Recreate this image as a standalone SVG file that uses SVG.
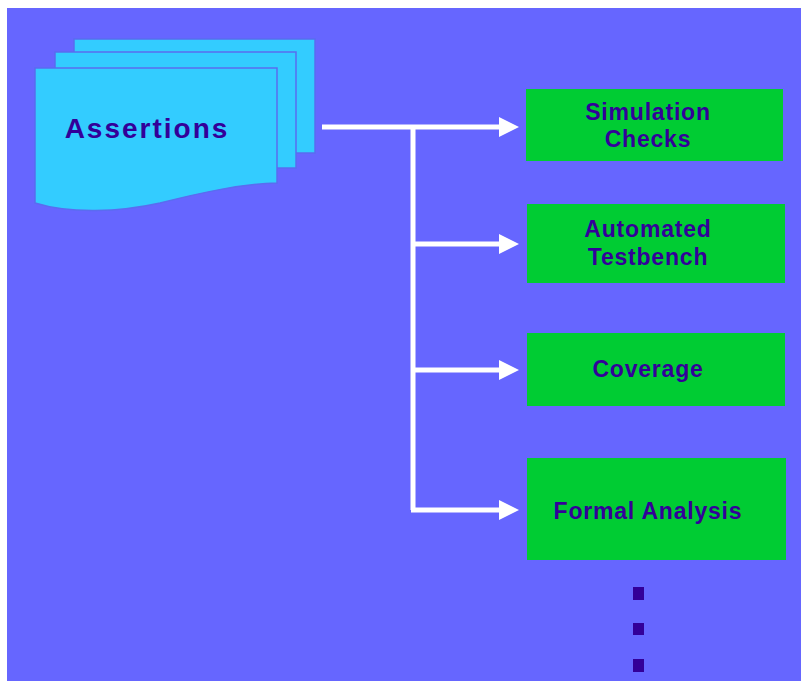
<svg xmlns="http://www.w3.org/2000/svg" width="801" height="681" viewBox="0 0 801 681">
<defs>
<style>
.doc{fill:#33CCFF;stroke:#5A6CF0;stroke-width:1.5}
.box{fill:#00CC33}
.lbl{font-family:"Liberation Sans",Arial,sans-serif;font-weight:bold;fill:#330099;text-anchor:middle}
.wire{stroke:#FFFFFF;stroke-width:5;fill:none}
.dot{fill:#330099}
</style>
<marker id="ah" viewBox="0 0 20 20" refX="4" refY="10" markerWidth="20" markerHeight="20" markerUnits="userSpaceOnUse" orient="auto">
<path d="M0,0 L20,10 L0,20 Z" fill="#FFFFFF"/>
</marker>
</defs>
<rect x="0" y="0" width="801" height="681" fill="#FFFFFF"/>
<rect x="7" y="8" width="794" height="673" fill="#6666FF"/>

<g id="assertions">
<rect class="doc" x="74" y="39" width="241" height="114"/>
<rect class="doc" x="55" y="52" width="241" height="116"/>
<path class="doc" d="M35,68 H277 V183 C240,184 200,193 160,203 C120,212 70,214 35,203 Z"/>
<text class="lbl" x="147" y="138" font-size="28" letter-spacing="2">Assertions</text>
</g>

<g id="connectors">
<path class="wire" d="M322,127 H503" marker-end="url(#ah)"/>
<path class="wire" d="M413,127 V510"/>
<path class="wire" d="M411,244 H503" marker-end="url(#ah)"/>
<path class="wire" d="M411,370 H503" marker-end="url(#ah)"/>
<path class="wire" d="M411,510 H503" marker-end="url(#ah)"/>
</g>

<g id="simulation-checks">
<rect class="box" x="526" y="89" width="257" height="72"/>
<text class="lbl" x="648" y="120" font-size="23" letter-spacing="0.8">Simulation</text>
<text class="lbl" x="648" y="147" font-size="23" letter-spacing="0.8">Checks</text>
</g>

<g id="automated-testbench">
<rect class="box" x="527" y="204" width="258" height="79"/>
<text class="lbl" x="648" y="237" font-size="23" letter-spacing="0.8">Automated</text>
<text class="lbl" x="648" y="265" font-size="23" letter-spacing="0.8">Testbench</text>
</g>

<g id="coverage">
<rect class="box" x="527" y="333" width="258" height="73"/>
<text class="lbl" x="648" y="377" font-size="23" letter-spacing="0.8">Coverage</text>
</g>

<g id="formal-analysis">
<rect class="box" x="527" y="458" width="259" height="102"/>
<text class="lbl" x="648" y="519" font-size="23" letter-spacing="0.8">Formal Analysis</text>
</g>

<g id="ellipsis">
<rect class="dot" x="633" y="587" width="11" height="13"/>
<rect class="dot" x="633" y="623" width="11" height="12"/>
<rect class="dot" x="633" y="659" width="11" height="13"/>
</g>
</svg>
